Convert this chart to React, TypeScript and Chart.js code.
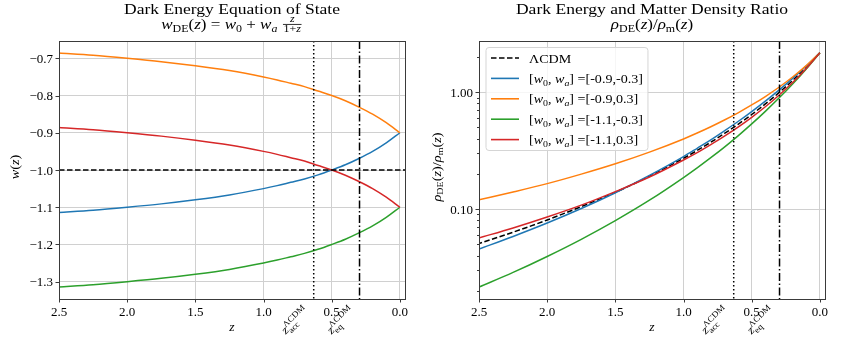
import React, { useEffect, useRef } from 'react';
import { Chart, registerables } from 'chart.js';
Chart.register(...registerables);

// ---------- data ----------
const Z = [0, 0.1, 0.2, 0.3, 0.4, 0.5, 0.6, 0.7, 0.8, 0.9, 1.0, 1.25, 1.5, 1.75, 2.0, 2.25, 2.5];

const W_BLUE = [-0.900, -0.927, -0.950, -0.969, -0.986, -1.000, -1.013, -1.024, -1.033, -1.042, -1.050, -1.067, -1.080, -1.091, -1.100, -1.108, -1.114];
const W_ORANGE = [-0.900, -0.873, -0.850, -0.831, -0.814, -0.800, -0.788, -0.776, -0.767, -0.758, -0.750, -0.733, -0.720, -0.709, -0.700, -0.692, -0.686];
const W_GREEN = [-1.100, -1.127, -1.150, -1.169, -1.186, -1.200, -1.213, -1.224, -1.233, -1.242, -1.250, -1.267, -1.280, -1.291, -1.300, -1.308, -1.314];
const W_RED = [-1.100, -1.073, -1.050, -1.031, -1.014, -1.000, -0.988, -0.976, -0.967, -0.958, -0.950, -0.933, -0.920, -0.909, -0.900, -0.892, -0.886];

const R_LCDM = [2.175, 1.634, 1.259, 0.990, 0.793, 0.644, 0.531, 0.443, 0.373, 0.317, 0.272, 0.191, 0.139, 0.105, 0.0806, 0.0634, 0.0507];
const R_BLUE = [2.175, 1.675, 1.311, 1.041, 0.838, 0.682, 0.561, 0.467, 0.391, 0.331, 0.281, 0.194, 0.138, 0.101, 0.0759, 0.0583, 0.0455];
const R_ORANGE = [2.175, 1.688, 1.348, 1.102, 0.918, 0.777, 0.666, 0.578, 0.506, 0.447, 0.398, 0.307, 0.244, 0.199, 0.165, 0.140, 0.120];
const R_GREEN = [2.175, 1.582, 1.175, 0.890, 0.685, 0.535, 0.423, 0.339, 0.275, 0.225, 0.186, 0.119, 0.0796, 0.0551, 0.0393, 0.0287, 0.0215];
const R_RED = [2.175, 1.594, 1.209, 0.942, 0.750, 0.609, 0.502, 0.420, 0.356, 0.304, 0.263, 0.188, 0.141, 0.108, 0.0855, 0.0689, 0.0566];

const W0 = [-0.9, -0.9, -1.1, -1.1];
const WA = [-0.3, 0.3, -0.3, 0.3];
const COLORS = ['#1f77b4', '#ff7f0e', '#2ca02c', '#d62728'];

const W_LCDM = -1;
const Z_ACC = 0.632;
const Z_EQ = 0.296;

const X_TICKS = [0, 0.5, 1, 1.5, 2, 2.5];
const X_RANGE = [-0.0375, 2.5];
const Y1_TICKS = [-1.3, -1.2, -1.1, -1.0, -0.9, -0.8, -0.7];
const Y1_RANGE = [-1.3465, -0.6535];
const Y2_MAJOR = [0.1, 1];
const Y2_MINOR = [0.02, 0.03, 0.04, 0.05, 0.06, 0.07, 0.08, 0.09, 0.2, 0.3, 0.4, 0.5, 0.6, 0.7, 0.8, 0.9, 2];
const Y2_RANGE = [0.017, 2.74];

const TITLE_LEFT = 'Dark Energy Equation of State';
const TITLE_RIGHT = 'Dark Energy and Matter Density Ratio';

// ---------- rich text ----------
const SERIF = '"Liberation Serif", "DejaVu Serif", serif';
const SX = 1.1; // horizontal widening to imitate Computer Modern proportions
type Tok = any;
const it = (t: string): Tok => ({ t, f: 'i' });
const rm = (t: string): Tok => ({ t });
const sub = (t: string, italic = false): Tok => ({ t, f: italic ? 'i' : 'r', s: 0.7, dy: 0.22 });

function runRich(ctx: CanvasRenderingContext2D, toks: Tok[], size: number, x: number, y: number, draw: boolean): number {
  let cx = x;
  for (const tk of toks) {
    if (tk.frac) {
      const fs = size * 0.7;
      const wn = runRich(ctx, tk.frac[0], fs, 0, 0, false);
      const wd = runRich(ctx, tk.frac[1], fs, 0, 0, false);
      const w = Math.max(wn, wd) + size * 0.24;
      if (draw) {
        const mid = y - size * 0.3;
        runRich(ctx, tk.frac[0], fs, cx + (w - wn) / 2, mid - size * 0.13, true);
        runRich(ctx, tk.frac[1], fs, cx + (w - wd) / 2, mid + size * 0.5, true);
        ctx.fillRect(cx + size * 0.08, mid - 0.4, w - size * 0.16, 0.8);
      }
      cx += w;
    } else if (tk.stack) {
      const fs = size * 0.7;
      const w1 = runRich(ctx, tk.stack[0], fs, 0, 0, false);
      const w2 = runRich(ctx, tk.stack[1], fs, 0, 0, false);
      if (draw) {
        runRich(ctx, tk.stack[0], fs, cx, y - size * 0.42, true);
        runRich(ctx, tk.stack[1], fs, cx, y + size * 0.26, true);
      }
      cx += Math.max(w1, w2);
    } else {
      const px = size * (tk.s ?? 1);
      const sx = tk.sx ?? SX;
      ctx.font = `${tk.f === 'i' ? 'italic ' : ''}${px}px ${SERIF}`;
      const w = ctx.measureText(tk.t).width * sx;
      if (draw) {
        ctx.save();
        ctx.translate(cx, y + (tk.dy ?? 0) * size);
        ctx.scale(sx, 1);
        ctx.fillText(tk.t, 0, 0);
        ctx.restore();
      }
      cx += w;
    }
  }
  return cx - x;
}

function drawRichCentered(ctx: CanvasRenderingContext2D, toks: Tok[], size: number, cx: number, y: number) {
  const w = runRich(ctx, toks, size, 0, 0, false);
  runRich(ctx, toks, size, cx - w / 2, y, true);
}

const RHO_TOKS: Tok[] = [it('ρ'), sub('DE'), rm('('), it('z'), rm(')/'), it('ρ'), sub('m'), rm('('), it('z'), rm(')')];
const W_TITLE_TOKS: Tok[] = [it('w'), sub('DE'), rm('('), it('z'), rm(') = '), it('w'), sub('0'), rm(' + '), it('w'), sub('a', true), rm(' '), { frac: [[it('z')], [rm('1+'), it('z')]] }];
const W_LABEL_TOKS: Tok[] = [it('w'), rm('('), it('z'), rm(')')];
const ACC_TOKS: Tok[] = [it('z'), { stack: [[rm('ΛCDM')], [rm('acc')]] }];
const EQ_TOKS: Tok[] = [it('z'), { stack: [[rm('ΛCDM')], [rm('eq')]] }];

// ---------- decorations plugin ----------
type DecorCfg = {
  title: string;
  subtitle: Tok[];
  ylabel: Tok[];
  ylabelX: number;
  hline?: number;
  yTicks: number[];
  yFmt: (v: number) => string;
  minorY?: number[];
  legend?: boolean;
};

const TICK_PX = 13;

function makeDecor(cfg: DecorCfg) {
  return {
    id: 'decor',
    afterDatasetsDraw(chart: any) {
      const { ctx, chartArea: a, scales } = chart;
      const xs = scales.x, ys = scales.y;
      ctx.save();
      ctx.beginPath();
      ctx.rect(a.left, a.top, a.right - a.left, a.bottom - a.top);
      ctx.clip();
      ctx.strokeStyle = '#000';
      ctx.lineWidth = 1.5;
      if (cfg.hline !== undefined) {
        const y = ys.getPixelForValue(cfg.hline);
        ctx.setLineDash([5.5, 2.5]);
        ctx.beginPath();
        ctx.moveTo(a.left, y);
        ctx.lineTo(a.right, y);
        ctx.stroke();
      }
      const xa = xs.getPixelForValue(Z_ACC);
      ctx.setLineDash([1.5, 2.5]);
      ctx.beginPath();
      ctx.moveTo(xa, a.top);
      ctx.lineTo(xa, a.bottom);
      ctx.stroke();
      const xe = xs.getPixelForValue(Z_EQ);
      ctx.setLineDash([8, 2.5, 1.5, 2.5]);
      ctx.beginPath();
      ctx.moveTo(xe, a.top);
      ctx.lineTo(xe, a.bottom);
      ctx.stroke();
      ctx.restore();
    },
    afterDraw(chart: any) {
      const { ctx, chartArea: a, scales } = chart;
      const xs = scales.x, ys = scales.y;
      ctx.save();
      // frame
      ctx.strokeStyle = '#3a3a3a';
      ctx.lineWidth = 1;
      ctx.setLineDash([]);
      ctx.strokeRect(Math.round(a.left) + 0.5, Math.round(a.top) + 0.5, Math.round(a.right - a.left), Math.round(a.bottom - a.top));
      // tick marks
      ctx.beginPath();
      for (const v of X_TICKS) {
        const x = Math.round(xs.getPixelForValue(v)) + 0.5;
        ctx.moveTo(x, a.bottom);
        ctx.lineTo(x, a.bottom + 3.5);
      }
      for (const v of cfg.yTicks) {
        const y = Math.round(ys.getPixelForValue(v)) + 0.5;
        ctx.moveTo(a.left - 3.5, y);
        ctx.lineTo(a.left, y);
      }
      ctx.stroke();
      if (cfg.minorY) {
        ctx.beginPath();
        for (const v of cfg.minorY) {
          if (v < Y2_RANGE[0] || v > Y2_RANGE[1]) continue;
          const y = Math.round(ys.getPixelForValue(v)) + 0.5;
          ctx.moveTo(a.left - 2, y);
          ctx.lineTo(a.left, y);
        }
        ctx.stroke();
      }
      ctx.fillStyle = '#000';
      ctx.textBaseline = 'alphabetic';
      // tick labels
      ctx.font = `${TICK_PX}px ${SERIF}`;
      ctx.textAlign = 'center';
      for (const v of X_TICKS) {
        ctx.fillText(v.toFixed(1), xs.getPixelForValue(v), a.bottom + 16.5);
      }
      ctx.textAlign = 'right';
      for (const v of cfg.yTicks) {
        ctx.fillText(cfg.yFmt(v), a.left - 6, ys.getPixelForValue(v) + 4.5);
      }
      ctx.textAlign = 'left';
      const cx = (a.left + a.right) / 2;
      // titles
      drawRichCentered(ctx, [{ t: cfg.title, sx: 1.17 }], 15, cx, 13.5);
      drawRichCentered(ctx, cfg.subtitle, 15.5, cx, 29);
      // x label
      drawRichCentered(ctx, [it('z')], 12.5, cx, 331);
      // y label
      {
        const w = runRich(ctx, cfg.ylabel, 13, 0, 0, false);
        ctx.save();
        ctx.translate(cfg.ylabelX, (a.top + a.bottom) / 2 - 3);
        ctx.rotate(-Math.PI / 2);
        runRich(ctx, cfg.ylabel, 13, -w / 2, 4.5, true);
        ctx.restore();
      }
      // rotated vertical-line labels
      const lab = (toks: Tok[], zv: number) => {
        const size = 12;
        const w = runRich(ctx, toks, size, 0, 0, false);
        const asc = size * 0.9, des = size * 0.45;
        const X = xs.getPixelForValue(zv) - 1;
        const Y = a.bottom + 5;
        const k = Math.SQRT1_2;
        ctx.save();
        ctx.translate(X - k * (w + des), Y + k * (w + asc));
        ctx.rotate(-Math.PI / 4);
        runRich(ctx, toks, size, 0, 0, true);
        ctx.restore();
      };
      lab(ACC_TOKS, Z_ACC);
      lab(EQ_TOKS, Z_EQ);
      // legend
      if (cfg.legend) {
        const size = 12.8;
        const rows: { toks: Tok[]; color: string; dash: number[] }[] = [
          { toks: [rm('ΛCDM')], color: '#000', dash: [5.5, 2.5] },
        ];
        for (let i = 0; i < W0.length; i++) {
          rows.push({
            toks: [rm('['), it('w'), sub('0'), rm(', '), it('w'), sub('a', true), rm(`] =[${W0[i]},${WA[i]}]`)],
            color: COLORS[i],
            dash: [],
          });
        }
        let maxW = 0;
        for (const r of rows) maxW = Math.max(maxW, runRich(ctx, r.toks, size, 0, 0, false));
        const bx = a.left + 7, by = a.top + 6.5;
        const bw = 43 + maxW + 5, bh = 103;
        ctx.beginPath();
        const rr = 3;
        ctx.moveTo(bx + rr, by);
        ctx.arcTo(bx + bw, by, bx + bw, by + bh, rr);
        ctx.arcTo(bx + bw, by + bh, bx, by + bh, rr);
        ctx.arcTo(bx, by + bh, bx, by, rr);
        ctx.arcTo(bx, by, bx + bw, by, rr);
        ctx.closePath();
        ctx.fillStyle = 'rgba(255,255,255,0.8)';
        ctx.fill();
        ctx.strokeStyle = '#d5d5d5';
        ctx.lineWidth = 1;
        ctx.stroke();
        rows.forEach((r, i) => {
          const y = by + 10.5 + i * 20.4;
          ctx.strokeStyle = r.color;
          ctx.lineWidth = 1.6;
          ctx.setLineDash(r.dash);
          ctx.beginPath();
          ctx.moveTo(bx + 5, y);
          ctx.lineTo(bx + 33, y);
          ctx.stroke();
          ctx.setLineDash([]);
          ctx.fillStyle = '#000';
          runRich(ctx, r.toks, size, bx + 43, y + 4.5, true);
        });
      }
      ctx.restore();
    },
  };
}

const pts = (ys: number[]) => Z.map((z, i) => ({ x: z, y: ys[i] }));

function lineDs(label: string, ys: number[], color: string, order: number, dash: number[] = []) {
  return {
    label,
    data: pts(ys),
    borderColor: color,
    backgroundColor: color,
    borderWidth: 1.5,
    borderDash: dash,
    pointRadius: 0,
    cubicInterpolationMode: 'monotone',
    fill: false,
    order,
  };
}

const GRID = '#d0d0d0';

function xScale() {
  return {
    type: 'linear',
    reverse: true,
    min: X_RANGE[0],
    max: X_RANGE[1],
    border: { display: false },
    grid: { color: GRID, lineWidth: 1, drawTicks: false },
    ticks: { display: false },
    afterBuildTicks: (s: any) => {
      s.ticks = X_TICKS.map((v) => ({ value: v }));
    },
    afterFit: (s: any) => {
      s.height = 38;
      s.paddingLeft = 0;
      s.paddingRight = 0;
    },
  };
}

function yAfterFit(width: number) {
  return (s: any) => {
    s.width = width;
    s.paddingTop = 0;
    s.paddingBottom = 0;
  };
}

function makeLeftConfig(): any {
  return {
    type: 'line',
    data: {
      datasets: [
        lineDs('blue', W_BLUE, COLORS[0], 4),
        lineDs('orange', W_ORANGE, COLORS[1], 3),
        lineDs('green', W_GREEN, COLORS[2], 2),
        lineDs('red', W_RED, COLORS[3], 1),
      ],
    },
    options: {
      animation: false,
      responsive: false,
      devicePixelRatio: 1,
      layout: { padding: { left: 0, right: 16, top: 41, bottom: 0 } },
      plugins: { legend: { display: false }, title: { display: false }, tooltip: { enabled: false } },
      scales: {
        x: xScale(),
        y: {
          type: 'linear',
          min: Y1_RANGE[0],
          max: Y1_RANGE[1],
          border: { display: false },
          grid: { color: GRID, lineWidth: 1, drawTicks: false },
          ticks: { display: false },
          afterBuildTicks: (s: any) => {
            s.ticks = Y1_TICKS.map((v) => ({ value: v }));
          },
          afterFit: yAfterFit(59),
        },
      },
    },
    plugins: [
      makeDecor({
        title: TITLE_LEFT,
        subtitle: W_TITLE_TOKS,
        ylabel: W_LABEL_TOKS,
        ylabelX: 14,
        hline: W_LCDM,
        yTicks: Y1_TICKS,
        yFmt: (v) => v.toFixed(1).replace('-', '−'),
      }),
    ],
  };
}

function makeRightConfig(): any {
  return {
    type: 'line',
    data: {
      datasets: [
        lineDs('ΛCDM', R_LCDM, '#000', 5, [5.5, 2.5]),
        lineDs('blue', R_BLUE, COLORS[0], 4),
        lineDs('orange', R_ORANGE, COLORS[1], 3),
        lineDs('green', R_GREEN, COLORS[2], 2),
        lineDs('red', R_RED, COLORS[3], 1),
      ],
    },
    options: {
      animation: false,
      responsive: false,
      devicePixelRatio: 1,
      layout: { padding: { left: 0, right: 18, top: 41, bottom: 0 } },
      plugins: { legend: { display: false }, title: { display: false }, tooltip: { enabled: false } },
      scales: {
        x: xScale(),
        y: {
          type: 'logarithmic',
          min: Y2_RANGE[0],
          max: Y2_RANGE[1],
          border: { display: false },
          grid: { color: GRID, lineWidth: 1, drawTicks: false },
          ticks: { display: false },
          afterBuildTicks: (s: any) => {
            s.ticks = Y2_MAJOR.map((v) => ({ value: v }));
          },
          afterFit: yAfterFit(58),
        },
      },
    },
    plugins: [
      makeDecor({
        title: TITLE_RIGHT,
        subtitle: RHO_TOKS,
        ylabel: RHO_TOKS,
        ylabelX: 15,
        yTicks: Y2_MAJOR,
        yFmt: (v) => v.toFixed(2),
        minorY: Y2_MINOR,
        legend: true,
      }),
    ],
  };
}

export default function App() {
  const leftRef = useRef<HTMLCanvasElement | null>(null);
  const rightRef = useRef<HTMLCanvasElement | null>(null);
  useEffect(() => {
    const c1 = new Chart(leftRef.current as HTMLCanvasElement, makeLeftConfig());
    const c2 = new Chart(rightRef.current as HTMLCanvasElement, makeRightConfig());
    return () => {
      c1.destroy();
      c2.destroy();
    };
  }, []);
  return (
    <div style={{ position: 'fixed', left: 0, top: 0, width: 843, height: 337, background: '#fff' }}>
      <canvas ref={leftRef} width={421} height={337} style={{ position: 'absolute', left: 0, top: 0, width: 421, height: 337 }} />
      <canvas ref={rightRef} width={422} height={337} style={{ position: 'absolute', left: 421, top: 0, width: 422, height: 337 }} />
    </div>
  );
}
